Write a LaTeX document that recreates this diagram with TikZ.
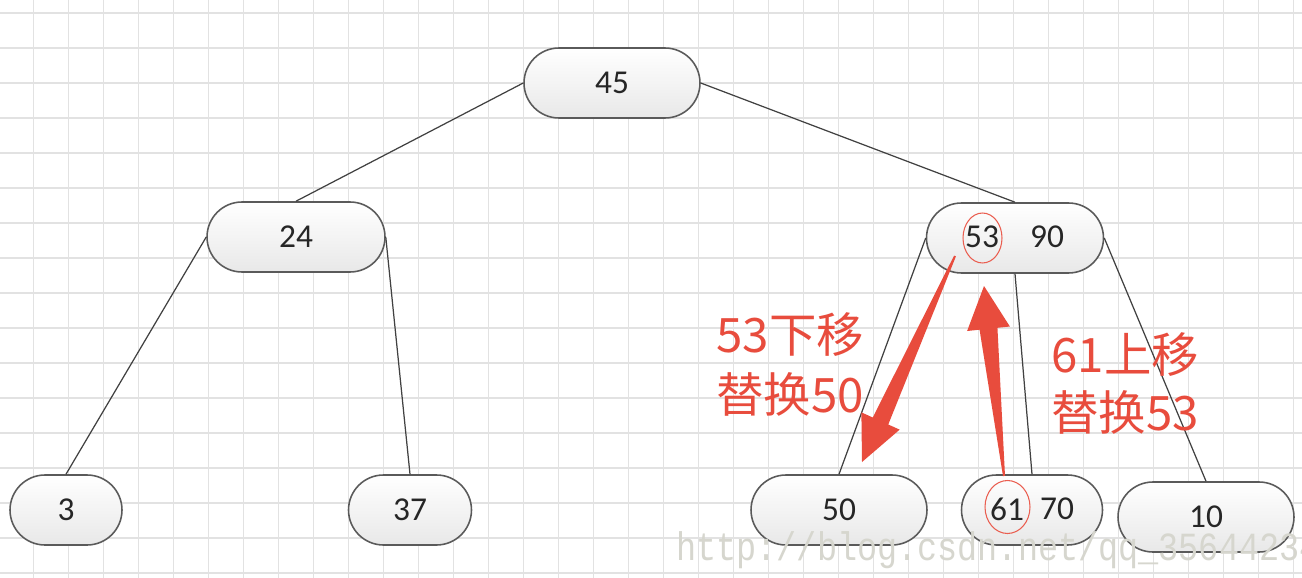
\documentclass[tikz,border=0pt]{standalone}
\usepackage{fontspec}
\setmainfont{Carlito}
\newfontfamily\cjk{Noto Sans CJK SC}
\newfontfamily\wmfont[FakeStretch=0.84]{Liberation Mono}
\usetikzlibrary{calc,shapes.geometric}
\definecolor{arrowred}{RGB}{232,76,61}
\definecolor{gridc}{RGB}{226,226,226}
\definecolor{edgec}{RGB}{65,65,65}
\definecolor{boxc}{RGB}{90,90,90}
\definecolor{wmc}{RGB}{214,214,206}
\begin{document}
\begin{tikzpicture}[x=0.02cm,y=-0.02cm,
  tnode/.style={draw=boxc, line width=0.9pt, rounded corners=0.7cm, minimum height=1.4cm,
    inner sep=0pt, top color=white, bottom color=black!9,
    font=\fontsize{19}{22}\selectfont, text=black!85},
  val/.style={font=\fontsize{19}{22}\selectfont, text=black!85, inner sep=0pt},
  link/.style={draw=edgec, line width=0.7pt},
  circmark/.style={ellipse, draw=arrowred!90, line width=0.6pt, inner sep=0pt},
  redlab/.style={font=\cjk\fontsize{27}{34}\selectfont, text=arrowred, inner sep=0pt, anchor=base west},
  bigarrow/.style={fill=arrowred, draw=none},
  gridline/.style={draw=gridc, line width=0.9pt}
]
\fill[white] (0,0) rectangle (1302,578);
\useasboundingbox (0,0) rectangle (1302,578);
% grid
\foreach \i in {0,...,36} \draw[gridline] ({33.5+35*\i},0) -- ({33.5+35*\i},578);
\foreach \j in {0,...,16} \draw[gridline] (0,{13+35*\j}) -- (1302,{13+35*\j});

% nodes
\node[tnode, minimum width=3.52cm] (n45) at (612,83) {45};
\node[tnode, minimum width=3.56cm] (n24) at (296,237) {24};
\node[tnode, minimum width=3.54cm] (n5390) at (1015,238) {};
\node[tnode, minimum width=2.24cm] (n3) at (66,510) {3};
\node[tnode, minimum width=2.46cm] (n37) at (410,510) {37};
\node[tnode, minimum width=3.52cm] (n50) at (839,510) {50};
\node[tnode, minimum width=2.82cm] (n6170) at (1032,510) {};
\node[tnode, minimum width=3.52cm] (n10) at (1206,517) {10};

\node[val] (v53) at (982,237) {53};
\node[val] (v90) at (1047,237) {90};
\node[val] (v61) at (1007,509) {61};
\node[val] (v70) at (1057,509) {70};

% edges
\draw[link] (n45.west) -- (n24.north);
\draw[link] (n45.east) -- (n5390.north);
\draw[link] (n24.west) -- (n3.north);
\draw[link] (n24.east) -- (n37.north);
\draw[link] (n5390.west) -- (n50.north);
\draw[link] (n5390.south) -- (n6170.north);
\draw[link] (n5390.east) -- (n10.north);

% red marks
\node[circmark, minimum width=0.78cm, minimum height=1.0cm] (e53) at (982.5,238) {};
\node[circmark, minimum width=0.9cm, minimum height=1.06cm] (e61) at (1007.5,507) {};

% red arrows
\coordinate (a1s) at (955,256);
\coordinate (a1t) at (862,462);
\coordinate (a1b) at ($(a1t)!0.9cm!(a1s)$);
\fill[bigarrow] ($(a1s)!0.02cm!90:(a1t)$) -- ($(a1b)!0.17cm!90:(a1t)$) -- ($(a1b)!0.42cm!90:(a1t)$)
  -- (a1t) -- ($(a1b)!0.42cm!-90:(a1t)$) -- ($(a1b)!0.17cm!-90:(a1t)$) -- ($(a1s)!0.02cm!-90:(a1t)$) -- cycle;

\coordinate (a2s) at (1004,476);
\coordinate (a2t) at (984,286);
\coordinate (a2b) at ($(a2t)!0.86cm!(a2s)$);
\fill[bigarrow] ($(a2s)!0.02cm!90:(a2t)$) -- ($(a2b)!0.18cm!90:(a2t)$) -- ($(a2b)!0.43cm!90:(a2t)$)
  -- (a2t) -- ($(a2b)!0.43cm!-90:(a2t)$) -- ($(a2b)!0.18cm!-90:(a2t)$) -- ($(a2s)!0.02cm!-90:(a2t)$) -- cycle;

% labels
\node[redlab] (l1a) at (716,352) {53下移};
\node[redlab] (l1b) at (716,412) {替换50};
\node[redlab] (l2a) at (1051,372) {61上移};
\node[redlab] (l2b) at (1051,430) {替换53};

% watermark
\node[font=\wmfont\fontsize{22.7}{26}\selectfont, text=wmc, anchor=base west, inner sep=0pt] (wm) at (676,560) {http://blog.csdn.net/qq\_35644234};
\end{tikzpicture}
\end{document}
